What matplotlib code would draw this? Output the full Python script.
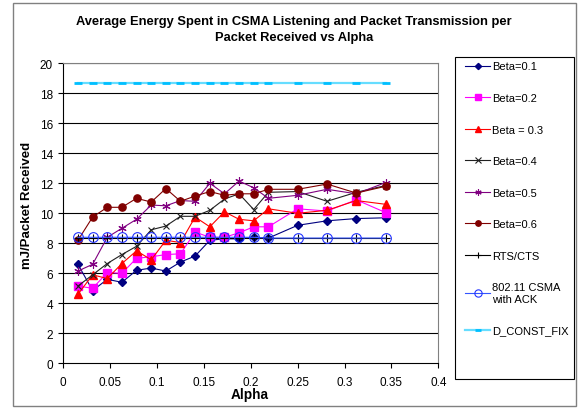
#!/usr/bin/env python3
"""Average energy per received packet vs alpha (Excel-style line chart)."""

import matplotlib

matplotlib.use("Agg")
import matplotlib.pyplot as plt
from matplotlib.patches import Rectangle
from matplotlib.ticker import FormatStrFormatter, MultipleLocator

plt.rcParams["font.family"] = ["Liberation Sans", "DejaVu Sans"]

alpha = [0.0156, 0.0313, 0.0469, 0.0625, 0.0781, 0.0938, 0.1094, 0.125, 0.1406,
         0.1563, 0.1719, 0.1875, 0.2031, 0.2188, 0.25, 0.2813, 0.3125, 0.3438]

beta_01 = [6.6, 4.85, 5.6, 5.4, 6.2, 6.35, 6.15, 6.75, 7.15,
           8.2, 8.3, 8.3, 8.4, 8.35, 9.2, 9.5, 9.65, 9.7]
beta_02 = [5.15, 5.0, 6.05, 6.0, 7.0, 7.1, 7.25, 7.3, 8.75,
           8.4, 8.4, 8.7, 9.1, 9.1, 10.3, 10.15, 10.9, 10.05]
beta_03 = [4.6, 5.9, 5.65, 6.65, 7.5, 6.9, 8.2, 8.05, 9.75,
           9.1, 10.1, 9.6, 9.5, 10.3, 10.0, 10.2, 10.85, 10.6]
beta_04 = [5.15, 5.9, 6.65, 7.25, 7.8, 8.9, 9.15, 9.8, 9.8,
           10.2, 10.95, 11.3, 10.25, 11.4, 11.45, 10.8, 11.4, 11.85]
beta_05 = [6.15, 6.6, 8.4, 9.0, 9.6, 10.55, 10.5, 10.85, 10.8,
           12.0, 11.3, 12.15, 11.7, 11.0, 11.2, 11.6, 11.3, 12.05]
beta_06 = [8.2, 9.75, 10.4, 10.4, 11.0, 10.75, 11.65, 10.8, 11.15,
           11.45, 11.2, 11.3, 11.3, 11.6, 11.6, 11.95, 11.35, 11.8]
rts_cts = [8.35, 8.35, 8.35, 8.35, 8.35, 8.35, 8.35, 8.35, 8.35,
           8.35, 8.35, 8.35, 8.35, 8.35, 8.35, 8.35, 8.35, 8.35]
csma_ack = [8.4, 8.4, 8.4, 8.4, 8.4, 8.4, 8.4, 8.4, 8.4,
            8.4, 8.4, 8.4, 8.4, 8.35, 8.35, 8.35, 8.35, 8.35]
d_const_fix = [18.7, 18.7, 18.7, 18.7, 18.7, 18.7, 18.7, 18.7, 18.7,
               18.7, 18.7, 18.7, 18.7, 18.7, 18.7, 18.7, 18.7, 18.7]

W, H = 581, 410
fig = plt.figure(figsize=(W / 100, H / 100), dpi=100)
fig.patch.set_facecolor("white")


def fx(px):
    return px / W


def fy(py):
    return 1 - py / H


# outer chart border
fig.patches.append(Rectangle((fx(12.7), fy(407.3)), fx(576) - fx(12.7), fy(4) - fy(407.3),
                             transform=fig.transFigure, fill=False, ec="#808080", lw=1.0))

ax = fig.add_axes([fx(63.3), fy(364.3), fx(438.3) - fx(63.3), fy(64.3) - fy(364.3)])

lw = 0.8
ax.plot(alpha, beta_01, color="#000080", lw=lw, marker="D", ms=4.2, mfc="#000080", mec="#000080", label="Beta=0.1")
ax.plot(alpha, beta_02, color="#FF00FF", lw=lw, marker="s", ms=5.2, mfc="#FF00FF", mec="#FF00FF", label="Beta=0.2")
ax.plot(alpha, beta_03, color="#FF0000", lw=lw, marker="^", ms=6.0, mfc="#FF0000", mec="#FF0000", label="Beta = 0.3")
ax.plot(alpha, beta_04, color="#202020", lw=lw, marker="x", ms=5.0, mew=0.8, label="Beta=0.4")
ax.plot(alpha, beta_05, color="#800080", lw=lw, marker=(6, 2, 0), ms=6.0, mew=0.8, label="Beta=0.5")
ax.plot(alpha, beta_06, color="#800000", lw=lw, marker="o", ms=5.2, mfc="#800000", mec="#800000", label="Beta=0.6")
ax.plot(alpha, rts_cts, color="#000000", lw=lw, marker="+", ms=6.0, mew=0.8, label="RTS/CTS")
ax.plot(alpha, csma_ack, color="#3355FF", lw=lw, marker="o", ms=7.0, mfc="none", mec="#2233FF", mew=0.8,
        label="802.11 CSMA\nwith ACK")
ax.plot(alpha, d_const_fix, color="#66DDFF", lw=1.6, marker="_", ms=6.0, mew=2.0, mec="#00BFFF",
        label="D_CONST_FIX")

ax.set_xlim(0, 0.4)
ax.set_ylim(0, 20)
ax.xaxis.set_major_locator(MultipleLocator(0.05))
ax.yaxis.set_major_locator(MultipleLocator(2))
ax.xaxis.set_major_formatter(FormatStrFormatter("%g"))
ax.yaxis.set_major_formatter(FormatStrFormatter("%g"))
ax.tick_params(direction="out", length=3.5, width=0.8, labelsize=8.5, colors="black", pad=4)
ax.tick_params(axis="x", pad=5.5)

for y in range(2, 21, 2):
    ax.axhline(y, color="black", lw=0.8, zorder=0.5)
for side in ("top", "right"):
    ax.spines[side].set_color("#808080")
    ax.spines[side].set_linewidth(0.8)
for side in ("left", "bottom"):
    ax.spines[side].set_color("black")
    ax.spines[side].set_linewidth(0.8)

fig.text(fx(294), fy(22), "Average Energy Spent in CSMA Listening and Packet Transmission per",
         ha="center", va="center", fontsize=9.25, fontweight="bold")
fig.text(fx(294), fy(37.5), "Packet Received vs Alpha",
         ha="center", va="center", fontsize=9.25, fontweight="bold")
fig.text(fx(250), fy(395), "Alpha", ha="center", va="center", fontsize=9.8, fontweight="bold")
fig.text(fx(27), fy(205), "mJ/Packet Received", ha="center", va="center", rotation=90,
         fontsize=9.5, fontweight="bold")

# legend frame drawn separately so it matches the original box
fig.patches.append(Rectangle((fx(455), fy(380)), fx(574) - fx(455), fy(58) - fy(380),
                             transform=fig.transFigure, fill=False, ec="black", lw=0.8))
ax.legend(loc="upper left", bbox_to_anchor=(fx(465), fy(62.5)), bbox_transform=fig.transFigure,
          frameon=False, fontsize=8, borderpad=0, borderaxespad=0, handlelength=2.25,
          handletextpad=0.2, labelspacing=1.94, markerscale=0.75)

fig.savefig("out.png", dpi=100)
